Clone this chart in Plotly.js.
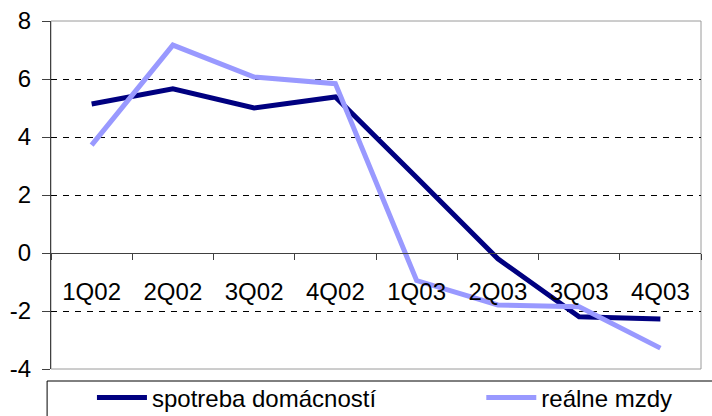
<!DOCTYPE html>
<html>
<head>
<meta charset="utf-8">
<script src="https://cdn.plot.ly/plotly-3.0.1.min.js"></script>
<style>html,body{margin:0;padding:0;background:#fff}#chart{width:712px;height:416px}</style>
</head>
<body>
<div id="chart"></div>
<script>
const categories = ["1Q02","2Q02","3Q02","4Q02","1Q03","2Q03","3Q03","4Q03"];
const spotreba = [5.14, 5.66, 5.0, 5.38, 2.6, -0.2, -2.2, -2.28];
const mzdy = [3.72, 7.17, 6.07, 5.84, -0.95, -1.79, -1.85, -3.28];
const seriesNames = ["spotreba domácností", "reálne mzdy"];
const yTicks = [-4, -2, 0, 2, 4, 6, 8];
const yTickLabels = ["-4", "-2", "0", "2", "4", "6", "8"];

const font = "Liberation Sans, Arial, sans-serif";
const traces = [
  {x: categories, y: spotreba, name: seriesNames[0], type: "scatter", mode: "lines",
   line: {color: "#000080", width: 5}, legend: "legend"},
  {x: categories, y: mzdy, name: seriesNames[1], type: "scatter", mode: "lines",
   line: {color: "#9999FF", width: 5}, legend: "legend2"}
];
const legendBase = {orientation: "h", xanchor: "left", y: -0.083, yanchor: "middle",
  font: {family: font, size: 24, color: "#000"}, bgcolor: "rgba(0,0,0,0)", itemwidth: 50};
const layout = {
  width: 712, height: 416,
  margin: {l: 51, r: 11, t: 21, b: 47, autoexpand: false},
  paper_bgcolor: "#fff", plot_bgcolor: "#fff",
  font: {family: font, size: 24, color: "#000"},
  showlegend: true,
  legend: Object.assign({}, legendBase, {x: 0.063}),
  legend2: Object.assign({}, legendBase, {x: 0.662}),
  xaxis: {type: "category", anchor: "free", position: 1/3, showline: true, linecolor: "#404040", linewidth: 1,
    ticks: "outside", ticklen: 6, tickcolor: "#404040", tickson: "boundaries",
    showgrid: false, zeroline: false, ticklabelstandoff: 17,
    tickfont: {family: font, size: 24, color: "#000"}, range: [-0.5, 7.5], fixedrange: true},
  yaxis: {range: [-4, 8], tickvals: yTicks, ticktext: yTickLabels, ticks: "outside", ticklen: 8, tickcolor: "#404040",
    showline: true, linecolor: "#404040", linewidth: 1, zeroline: false,
    showgrid: true, gridcolor: "#000", griddash: "6px,6px", gridwidth: 1,
    ticklabelstandoff: 6, tickfont: {family: font, size: 24, color: "#000"}},
  shapes: [
    {type: "rect", xref: "paper", yref: "paper", x0: 0, x1: 1, y0: 0, y1: 1,
     line: {color: "#9a9a9a", width: 1}, layer: "below"},
    {type: "rect", xref: "paper", yref: "paper", x0: -0.006, x1: 1.2, y0: -0.0345, y1: -0.3,
     line: {color: "#000", width: 1}, layer: "below"}
  ]
};
Plotly.newPlot("chart", traces, layout, {displayModeBar: false, staticPlot: true});
</script>
</body>
</html>
